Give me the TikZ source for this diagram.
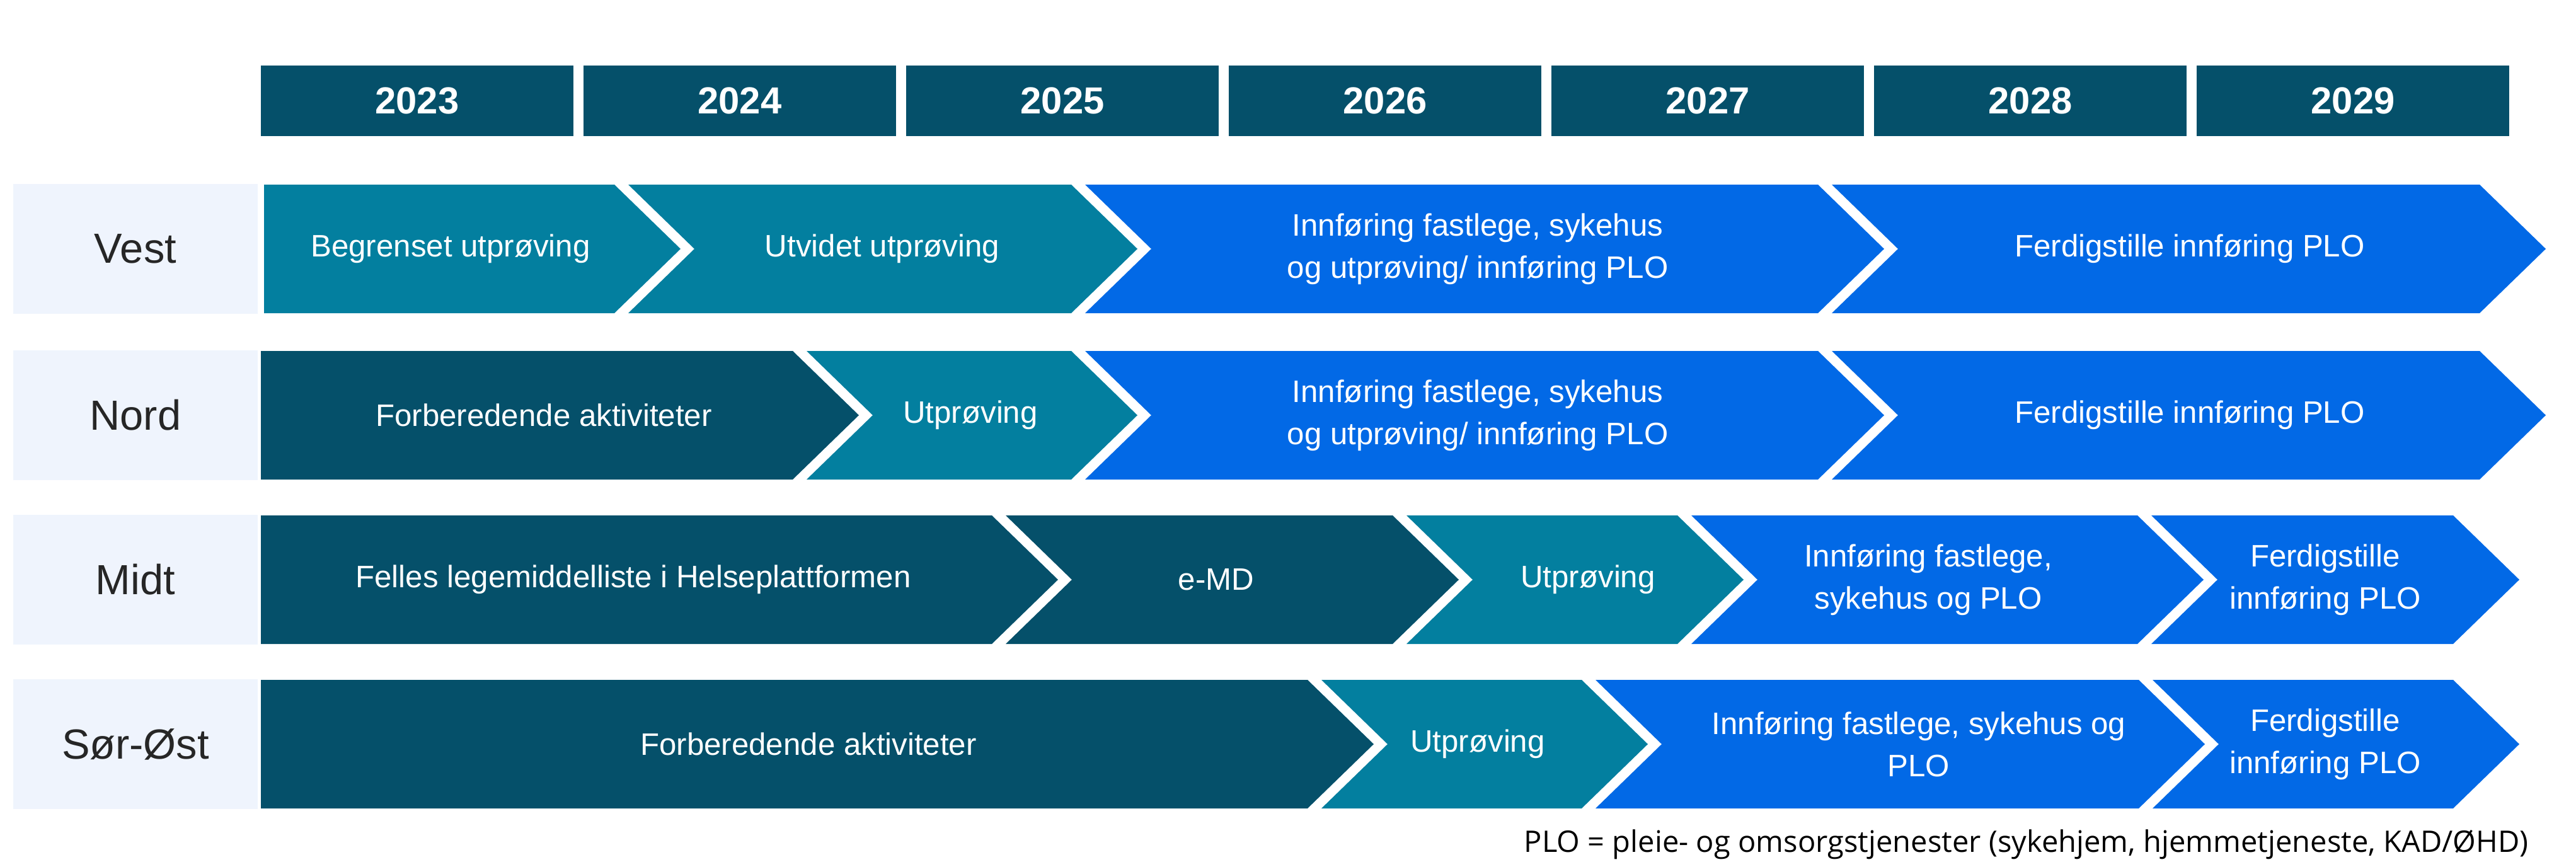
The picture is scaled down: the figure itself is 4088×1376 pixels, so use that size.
\documentclass[tikz,border=0pt]{standalone}
\usepackage{fontspec}
\setmainfont{Liberation Sans}
\newfontfamily\footfont{Open Sans}
\definecolor{darkteal}{HTML}{05506A}
\definecolor{midteal}{HTML}{037F9F}
\definecolor{brightblue}{HTML}{0269E6}
\definecolor{labelbg}{HTML}{EFF4FD}
\tikzset{
  year/.style={fill=darkteal, text=white, font=\fontsize{17}{20}\selectfont\bfseries, minimum width=4.96cm, minimum height=1.11cm, inner sep=0pt},
  region/.style={fill=labelbg, text=black!85, font=\fontsize{19}{22}\selectfont, minimum width=3.88cm, minimum height=2.05cm, inner sep=0pt},
  phase/.style={text=white, font=\fontsize{14}{19}\selectfont, align=center},
}
% body start, body end, row centre, colour, notch (1/0)
\newcommand{\chev}[5]{%
  \ifnum#5=1
    \fill[#4] (#1,#3-102) -- (#2,#3-102) -- (#2+105,#3) -- (#2,#3+102) -- (#1,#3+102) -- (#1+105,#3) -- cycle;
  \else
    \fill[#4] (#1,#3-102) -- (#2,#3-102) -- (#2+105,#3) -- (#2,#3+102) -- (#1,#3+102) -- cycle;
  \fi}
\begin{document}
\begin{tikzpicture}[x=0.01cm,y=-0.01cm]
\useasboundingbox (0,0) rectangle (4088,1376);
% years
\foreach \yr [count=\i from 0] in {2023,2024,2025,2026,2027,2028,2029}
  \node[year] (y\yr) at (662+512*\i,160) {\yr};
% regions
\node[region] (vest) at (215,395) {Vest};
\node[region] (nord) at (215,659) {Nord};
\node[region] (midt) at (215,920) {Midt};
\node[region] (sorost) at (215,1181) {Sør-Øst};
% Vest
\chev{419}{975}{395}{midteal}{0}
\chev{997}{1700}{395}{midteal}{1}
\chev{1722}{2885}{395}{brightblue}{1}
\chev{2907}{3935}{395}{brightblue}{1}
\node[phase] (v1) at (715,395) {Begrenset utprøving};
\node[phase] (v2) at (1400,395) {Utvidet utprøving};
\node[phase] (v3) at (2345,395) {Innføring fastlege, sykehus\\og utprøving/ innføring PLO};
\node[phase] (v4) at (3475,395) {Ferdigstille innføring PLO};
% Nord
\chev{414}{1258}{659}{darkteal}{0}
\chev{1280}{1700}{659}{midteal}{1}
\chev{1722}{2885}{659}{brightblue}{1}
\chev{2907}{3935}{659}{brightblue}{1}
\node[phase] (n1) at (863,659) {Forberedende aktiviteter};
\node[phase] (n2) at (1540,659) {Utprøving};
\node[phase] (n3) at (2345,659) {Innføring fastlege, sykehus\\og utprøving/ innføring PLO};
\node[phase] (n4) at (3475,659) {Ferdigstille innføring PLO};
% Midt
\chev{414}{1574}{920}{darkteal}{0}
\chev{1596}{2210}{920}{darkteal}{1}
\chev{2232}{2662}{920}{midteal}{1}
\chev{2684}{3392}{920}{brightblue}{1}
\chev{3414}{3893}{920}{brightblue}{1}
\node[phase] (m1) at (1005,920) {Felles legemiddelliste i Helseplattformen};
\node[phase] (m2) at (1930,920) {e-MD};
\node[phase] (m3) at (2520,920) {Utprøving};
\node[phase] (m4) at (3060,920) {Innføring fastlege,\\sykehus og PLO};
\node[phase] (m5) at (3690,920) {Ferdigstille\\innføring PLO};
% Sør-Øst
\chev{414}{2075}{1181}{darkteal}{0}
\chev{2097}{2510}{1181}{midteal}{1}
\chev{2532}{3394}{1181}{brightblue}{1}
\chev{3416}{3893}{1181}{brightblue}{1}
\node[phase] (s1) at (1283,1181) {Forberedende aktiviteter};
\node[phase] (s2) at (2345,1181) {Utprøving};
\node[phase] (s3) at (3045,1181) {Innføring fastlege, sykehus og\\PLO};
\node[phase] (s4) at (3690,1181) {Ferdigstille\\innføring PLO};
% footnote
\node[anchor=east, font=\footfont\fontsize{13.4}{16}\selectfont] (plo) at (4025,1340) {PLO = pleie- og omsorgstjenester (sykehjem, hjemmetjeneste, KAD/ØHD)};
\end{tikzpicture}
\end{document}
